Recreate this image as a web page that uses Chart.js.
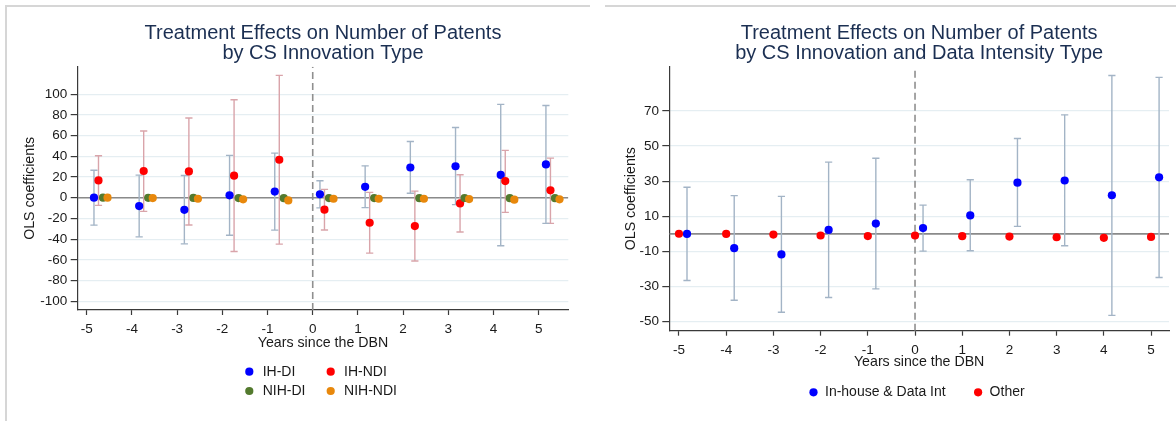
<!DOCTYPE html>
<html>
<head>
<meta charset="utf-8">
<script src="https://cdn.jsdelivr.net/npm/chart.js@4.4.1/dist/chart.umd.min.js"></script>
<style>
  body { margin: 0; background: #fff; width: 1176px; height: 421px; overflow: hidden; position: relative; }
  canvas { position: absolute; top: 0; }
  #left { left: 0; }
  #right { left: 590px; }
  .frame { position: absolute; border: 0 solid #d6d6d6; }
</style>
</head>
<body>
<div class="frame" style="left:5px;top:5px;width:583px;height:416px;border-top-width:2px;border-left-width:2px"></div>
<div class="frame" style="left:605px;top:5px;width:571px;height:0;border-top-width:2px"></div>
<canvas id="left" width="590" height="421"></canvas>
<canvas id="right" width="586" height="421"></canvas>
<script>
// event-time coefficients, years relative to the DBN
const years = [-5, -4, -3, -2, -1, 0, 1, 2, 3, 4, 5];

const ihDI   = [0, -8.1, -11.7, 2.3, 5.9, 3.3, 10.5, 29.2, 30.4, 22.0, 32.2];
const ihDILo = [-26.5, -37.8, -44.6, -36.2, -31.3, -9.8, -9.6, 4.3, -6.7, -46.4, -24.8];
const ihDIHi = [26.6, 21.8, 21.4, 40.9, 43.1, 16.4, 30.8, 54.3, 67.8, 90.2, 89.1];

const ihNDI   = [16.7, 25.8, 25.4, 21.3, 36.7, -11.6, -24.2, -27.4, -5.5, 16.1, 7.1];
const ihNDILo = [-7.4, -13.2, -26.4, -51.9, -44.8, -31.2, -53.5, -61.2, -33.2, -14.2, -24.8];
const ihNDIHi = [40.6, 64.4, 77.0, 94.7, 118.2, 8.1, 5.2, 6.4, 22.2, 45.7, 38.3];

const nihDI  = [0, -0.1, -0.2, -0.3, -0.4, -0.3, -0.3, -0.4, -0.3, -0.4, -0.4];
const nihNDI = [0, -0.3, -1.0, -1.6, -2.6, -1.0, -1.0, -1.0, -1.3, -1.9, -1.6];

// right panel: in-house & data intensive vs everything else
const inHouse   = ihDI;
const inHouseLo = ihDILo;
const inHouseHi = ihDIHi;
const other = [0.1, 0, -0.4, -0.9, -1.2, -0.9, -1.3, -1.5, -1.9, -2.2, -1.7];

const xTicks = years;
const yTicksLeft = [-100, -80, -60, -40, -20, 0, 20, 40, 60, 80, 100];
const yTicksRight = [-50, -30, -10, 10, 30, 50, 70];

const FONT = '"Liberation Sans", Arial, Helvetica, sans-serif';
const TITLE_COLOR = '#1b2f52';
const TEXT = '#1a1a1a';
const AXIS = '#3a3a3a';
const GRID = '#e5eef2';

function pts(offset, vals) {
  return years.map((yr, i) => ({ x: yr + offset, y: vals[i] }));
}

function ciPts(offset, lo, hi) {
  const out = [];
  years.forEach((yr, i) => {
    out.push({ x: yr + offset, y: lo[i] }, { x: yr + offset, y: hi[i] }, { x: yr + offset, y: null });
  });
  return out;
}

function dots(label, color, data, order) {
  return { label, data, backgroundColor: color, borderColor: color,
           pointRadius: 4.1, pointBorderWidth: 0, order };
}

function caps(color, data) {
  return { data, showLine: true, spanGaps: false, borderColor: color, borderWidth: 1.4,
           pointStyle: 'line', pointRadius: 3.6, pointBorderWidth: 1.4,
           pointBorderColor: color, order: 20 };
}

function refLine(data, color, dash) {
  return { data, showLine: true, borderColor: color, borderWidth: 1.6, borderDash: dash || [],
           pointRadius: 0, order: 30 };
}

// key drawn under the axis title, columns aligned on their markers
const keyPlugin = {
  id: 'keys',
  afterDraw(chart, args, opts) {
    const ctx = chart.ctx;
    ctx.save();
    ctx.font = '14px ' + FONT;
    ctx.textBaseline = 'middle';
    opts.items.forEach(it => {
      const ds = chart.data.datasets[it.index];
      ctx.beginPath();
      ctx.arc(it.x, it.y, 4.1, 0, Math.PI * 2);
      ctx.fillStyle = ds.backgroundColor;
      ctx.fill();
      ctx.fillStyle = TEXT;
      ctx.fillText(ds.label, it.x + opts.gap, it.y);
    });
    ctx.restore();
  }
};

function makeOptions(cfg) {
  return {
    responsive: false,
    animation: false,
    events: [],
    layout: { padding: cfg.padding },
    plugins: {
      legend: { display: false },
      tooltip: { enabled: false },
      title: {
        display: true, text: cfg.title, fullSize: false, color: TITLE_COLOR,
        font: { family: FONT, size: 20, weight: 'normal', lineHeight: '20px' },
        padding: { top: 23.5, bottom: 3.2 }
      },
      keys: cfg.keys
    },
    scales: {
      x: {
        type: 'linear', min: cfg.xMin, max: cfg.xMax,
        afterBuildTicks: s => { s.ticks = xTicks.map(v => ({ value: v })); },
        afterFit: s => { s.height = cfg.xHeight; },
        ticks: { color: TEXT, font: { family: FONT, size: 13.5 }, padding: 6.4, callback: v => String(v) },
        grid: { drawOnChartArea: false, tickLength: 5, tickColor: AXIS, tickWidth: 1.2 },
        border: { color: AXIS, width: 1.2 },
        title: { display: true, text: 'Years since the DBN', color: TEXT,
                 font: { family: FONT, size: 14.2 }, padding: { top: 0, bottom: cfg.xTitlePad } }
      },
      y: {
        type: 'linear', min: cfg.yMin, max: cfg.yMax,
        afterBuildTicks: s => { s.ticks = cfg.yTicks.map(v => ({ value: v })); },
        afterFit: s => { s.width = cfg.yWidth; },
        ticks: { color: TEXT, font: { family: FONT, size: 13.5 }, padding: 3.4, callback: v => String(v) },
        grid: { color: GRID, lineWidth: 1.2, tickLength: 7, tickColor: AXIS, tickWidth: 1.2 },
        border: { color: AXIS, width: 1.2 },
        title: { display: true, text: 'OLS coefficients', color: TEXT,
                 font: { family: FONT, size: 14.2 }, padding: { top: cfg.yTitlePad, bottom: 0 } }
      }
    }
  };
}

// left panel: four innovation types
const L = { xMin: -5.2, xMax: 5.655, yMin: -108.5, yMax: 126.6 };
new Chart(document.getElementById('left'), {
  type: 'scatter',
  data: {
    datasets: [
      dots('IH-DI', '#0000ff', pts(0.16, ihDI), 4),
      dots('IH-NDI', '#ff0000', pts(0.26, ihNDI), 3),
      dots('NIH-DI', '#537a2e', pts(0.36, nihDI), 2),
      dots('NIH-NDI', '#e8880c', pts(0.46, nihNDI), 1),
      caps('#a3b4c6', ciPts(0.16, ihDILo, ihDIHi)),
      caps('#d9a4aa', ciPts(0.26, ihNDILo, ihNDIHi)),
      refLine([{ x: L.xMin, y: 0 }, { x: L.xMax, y: 0 }], '#8a8a8a'),
      refLine([{ x: 0, y: L.yMin }, { x: 0, y: L.yMax }], '#8f8f8f', [7, 4])
    ]
  },
  options: makeOptions({
    ...L,
    title: ['Treatment Effects on Number of Patents', 'by CS Innovation Type'],
    padding: { top: 0, left: 10, right: 21.7, bottom: 69 },
    xHeight: 42, xTitlePad: 0.4, yWidth: 67.7, yTitlePad: 11.3, yTicks: yTicksLeft,
    keys: { gap: 13.4, items: [
      { index: 0, x: 249.3, y: 371.7 }, { index: 1, x: 330.7, y: 371.7 },
      { index: 2, x: 249.3, y: 391 },   { index: 3, x: 330.7, y: 391 }
    ] }
  }),
  plugins: [keyPlugin]
});

// right panel: in-house data-intensive vs other
const R = { xMin: -5.205, xMax: 5.38, yMin: -55.1, yMax: 95.2 };
new Chart(document.getElementById('right'), {
  type: 'scatter',
  data: {
    datasets: [
      dots('In-house & Data Int', '#0000ff', pts(0.17, inHouse), 2),
      dots('Other', '#ff0000', pts(0, other), 1),
      caps('#a3b4c6', ciPts(0.17, inHouseLo, inHouseHi)),
      refLine([{ x: R.xMin, y: 0 }, { x: R.xMax, y: 0 }], '#8a8a8a'),
      refLine([{ x: 0, y: R.yMin }, { x: 0, y: R.yMax }], '#8f8f8f', [7, 4])
    ]
  },
  options: makeOptions({
    ...R,
    title: ['Treatment Effects on Number of Patents', 'by CS Innovation and Data Intensity Type'],
    padding: { top: 0, left: 10, right: 7, bottom: 49.3 },
    xHeight: 41, xTitlePad: 0.6, yWidth: 69.3, yTitlePad: 22.4, yTicks: yTicksRight,
    keys: { gap: 11.5, items: [
      { index: 0, x: 223.5, y: 392.3 }, { index: 1, x: 388.1, y: 392.3 }
    ] }
  }),
  plugins: [keyPlugin]
});
</script>
</body>
</html>
